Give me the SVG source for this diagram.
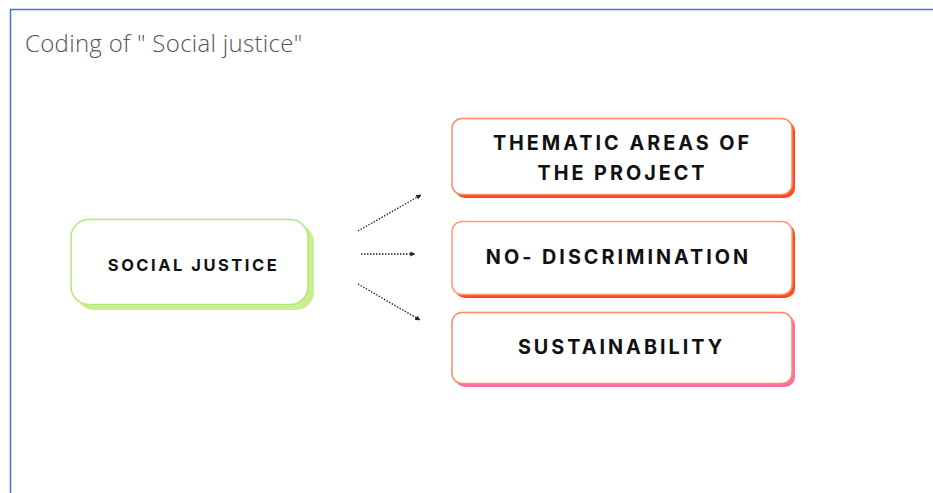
<svg xmlns="http://www.w3.org/2000/svg" width="933" height="493" viewBox="0 0 933 493">
<style>
.lbl{font-family:Inter,"Liberation Sans",sans-serif;font-weight:700;fill:#111;text-anchor:middle}
.big{font-size:19.8px;letter-spacing:3px}
.sm{font-size:16.5px;letter-spacing:2.5px}
.box{fill:#fff;stroke-width:1.5}
.conn{stroke:#222;stroke-width:1.3;stroke-dasharray:1.5 1.5;fill:none}
</style>
<defs>
<marker id="ah" viewBox="0 0 10 10" refX="9" refY="5" markerWidth="4" markerHeight="4" orient="auto">
<path d="M0 0L10 5L0 10z" fill="#222"/>
</marker>
</defs>
<rect width="933" height="493" fill="#fff"/>
<path d="M10.5 493V9.5H933" fill="none" stroke="#4a74c9" stroke-width="1.5"/>
<text x="25" y="52" font-family="'Open Sans',sans-serif" font-weight="300" font-size="24" letter-spacing="0.3" fill="#555">Coding of " Social justice"</text>
<g id="social-justice">
<rect x="76" y="224" width="238" height="86" rx="18" fill="#c8ef92"/>
<rect class="box" x="71" y="219.5" width="237" height="85" rx="18" stroke="#b6e57a"/>
<text class="lbl sm" x="193.5" y="271">SOCIAL JUSTICE</text>
</g>
<g id="thematic-areas">
<rect x="455" y="121" width="340" height="77" rx="10" fill="#ff4a1c"/>
<rect class="box" x="452" y="118.5" width="340" height="76" rx="10" stroke="#ff8a66"/>
<text class="lbl big" x="622.5" y="150">THEMATIC AREAS OF</text>
<text class="lbl big" x="622.5" y="180">THE PROJECT</text>
</g>
<g id="no-discrimination">
<rect x="455" y="224" width="340" height="74" rx="10" fill="#ff4a1c"/>
<rect class="box" x="452" y="221.5" width="340" height="73" rx="10" stroke="#ff9a76"/>
<text class="lbl big" x="618.5" y="264">NO- DISCRIMINATION</text>
</g>
<g id="sustainability">
<rect x="455" y="315" width="340" height="72" rx="10" fill="#ff6aa8"/>
<rect class="box" x="452" y="312.5" width="340" height="71" rx="10" stroke="#ff8a66"/>
<text class="lbl big" x="621.5" y="354">SUSTAINABILITY</text>
</g>
<g id="connectors">
<path class="conn" d="M358 231L421 195" marker-end="url(#ah)"/>
<path class="conn" d="M361 254H415" marker-end="url(#ah)"/>
<path class="conn" d="M358 284L420 320" marker-end="url(#ah)"/>
</g>
</svg>
